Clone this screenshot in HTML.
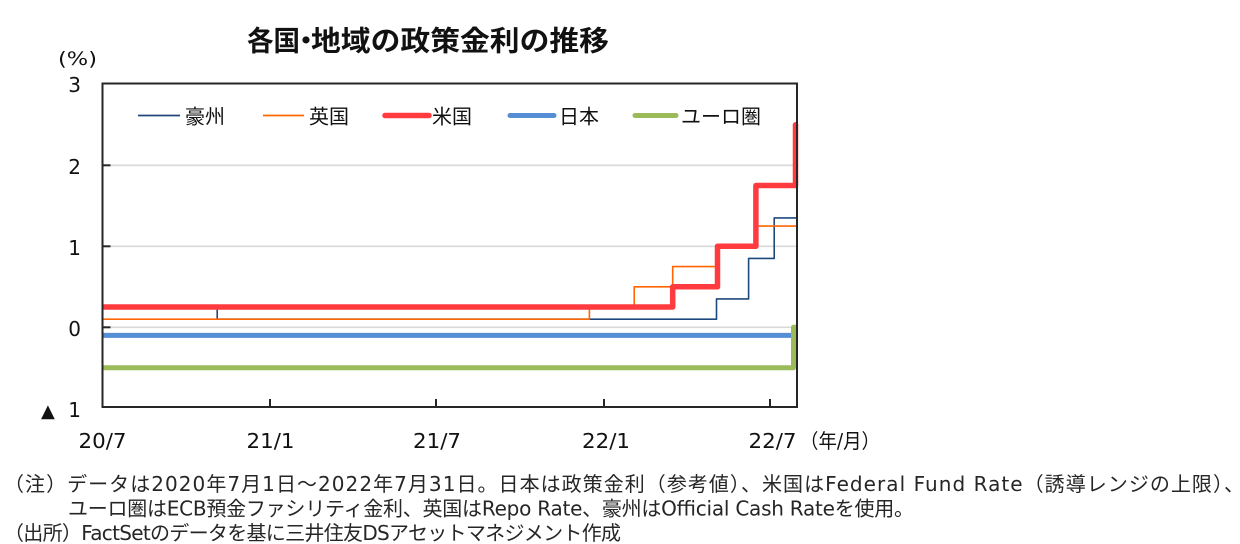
<!DOCTYPE html>
<html>
<head>
<meta charset="utf-8">
<style>
  html, body { margin: 0; padding: 0; background: #ffffff; }
  body { width: 1240px; height: 544px; overflow: hidden; }
  svg { display: block; }
  .t { font-family: "DejaVu Sans", "Noto Sans CJK JP", sans-serif; fill: #111; }
  .j { font-family: "Liberation Sans", "Noto Sans CJK JP", sans-serif; fill: #111; }
  .n { font-family: "DejaVu Sans", "Noto Sans CJK JP", sans-serif; fill: #262626; }
</style>
</head>
<body>
<svg width="1240" height="544" viewBox="0 0 1240 544" xmlns="http://www.w3.org/2000/svg">
  <rect x="0" y="0" width="1240" height="544" fill="#ffffff"/>

  <!-- Title -->
  <g class="j" font-size="28" font-weight="bold" fill="#000">
    <text x="247" y="50.5" textLength="53" lengthAdjust="spacingAndGlyphs">各国</text>
    <text x="292" y="50.5">・</text>
    <text x="311" y="50.5" textLength="298" lengthAdjust="spacingAndGlyphs">地域の政策金利の推移</text>
  </g>

  <!-- Y unit -->
  <text x="58" y="65" class="t" font-size="19" textLength="39" lengthAdjust="spacingAndGlyphs">(%)</text>

  <!-- Gridlines -->
  <g stroke="#d9d9d9" stroke-width="1.6">
    <line x1="102" y1="165.3" x2="797" y2="165.3"/>
    <line x1="102" y1="246.3" x2="797" y2="246.3"/>
    <line x1="102" y1="327.3" x2="797" y2="327.3"/>
  </g>

  <!-- Series -->
  <g fill="none" stroke-linejoin="round">
    <path d="M102,307.05 H217.2 V319.2 H716.5 V298.95 H748.6 V258.45 H774.2 V217.95 H797" stroke="#1F497D" stroke-width="1.6"/>
    <path d="M102,319.2 H589.4 V307.05 H634.2 V286.8 H672.7 V266.55 H717.5 V246.3 H755.9 V226.05 H797" stroke="#FF6600" stroke-width="1.6"/>
    <path d="M102,335.4 H797" stroke="#558ED5" stroke-width="5"/>
    <path d="M102,367.8 H793.5 V327.3 H797" stroke="#9BBB59" stroke-width="5"/>
    <path d="M102,307.05 H672.7 V286.8 H717.5 V246.3 H755.9 V185.55 H795.5 V124.8" stroke="#FF3B3F" stroke-width="5.5" stroke-linecap="butt"/>
  </g>
  <circle cx="795.5" cy="124.8" r="2.75" fill="#FF3B3F"/>

  <!-- Frame -->
  <rect x="102.5" y="83.5" width="694.5" height="323.5" fill="none" stroke="#262626" stroke-width="2"/>

  <!-- Ticks -->
  <g stroke="#262626" stroke-width="2">
    <line x1="102" y1="165.3" x2="110.5" y2="165.3"/>
    <line x1="102" y1="246.3" x2="110.5" y2="246.3"/>
    <line x1="102" y1="327.3" x2="110.5" y2="327.3"/>
    <line x1="270" y1="407" x2="270" y2="399"/>
    <line x1="436" y1="407" x2="436" y2="399"/>
    <line x1="604" y1="407" x2="604" y2="399"/>
    <line x1="770" y1="407" x2="770" y2="399"/>
  </g>

  <!-- Y labels -->
  <g class="t" font-size="20" text-anchor="end">
    <text x="81" y="92">3</text>
    <text x="81" y="174">2</text>
    <text x="81" y="255">1</text>
    <text x="81" y="336">0</text>
    <text x="81" y="417">1</text>
  </g>
  <text x="41" y="417" class="t" font-size="18">▲</text>

  <!-- X labels -->
  <g class="t" font-size="20" text-anchor="middle">
    <text x="102.5" y="448" textLength="48" lengthAdjust="spacingAndGlyphs">20/7</text>
    <text x="270.5" y="448" textLength="48" lengthAdjust="spacingAndGlyphs">21/1</text>
    <text x="437" y="448" textLength="48" lengthAdjust="spacingAndGlyphs">21/7</text>
    <text x="606" y="448" textLength="48" lengthAdjust="spacingAndGlyphs">22/1</text>
    <text x="772.5" y="448" textLength="48" lengthAdjust="spacingAndGlyphs">22/7</text>
  </g>
  <text x="800" y="448" class="t" font-size="20" textLength="80" lengthAdjust="spacingAndGlyphs">（年/月）</text>

  <!-- Legend -->
  <g fill="none">
    <line x1="138" y1="115.5" x2="180" y2="115.5" stroke="#1F497D" stroke-width="1.8"/>
    <line x1="263" y1="115.5" x2="304" y2="115.5" stroke="#FF6600" stroke-width="1.8"/>
    <line x1="385" y1="115.5" x2="429" y2="115.5" stroke="#FF3B3F" stroke-width="5.5" stroke-linecap="round"/>
    <line x1="510" y1="115.5" x2="554" y2="115.5" stroke="#558ED5" stroke-width="5" stroke-linecap="round"/>
    <line x1="635" y1="115.5" x2="676" y2="115.5" stroke="#9BBB59" stroke-width="5" stroke-linecap="round"/>
  </g>
  <g class="j" font-size="20">
    <text x="185" y="123.5">豪州</text>
    <text x="309" y="123.5">英国</text>
    <text x="432" y="123.5">米国</text>
    <text x="559" y="123.5">日本</text>
    <text x="681" y="123.5">ユーロ圏</text>
  </g>

  <!-- Notes -->
  <g class="n" font-size="20">
    <text x="4" y="491" textLength="1240" lengthAdjust="spacing">（注）データは2020年7月1日～2022年7月31日。日本は政策金利（参考値）、米国はFederal Fund Rate（誘導レンジの上限）、</text>
    <text x="68" y="515.5" textLength="846" lengthAdjust="spacing">ユーロ圏はECB預金ファシリティ金利、英国はRepo Rate、豪州はOfficial Cash Rateを使用。</text>
    <text x="4" y="540" textLength="617" lengthAdjust="spacing">（出所）FactSetのデータを基に三井住友DSアセットマネジメント作成</text>
  </g>
</svg>
</body>
</html>
